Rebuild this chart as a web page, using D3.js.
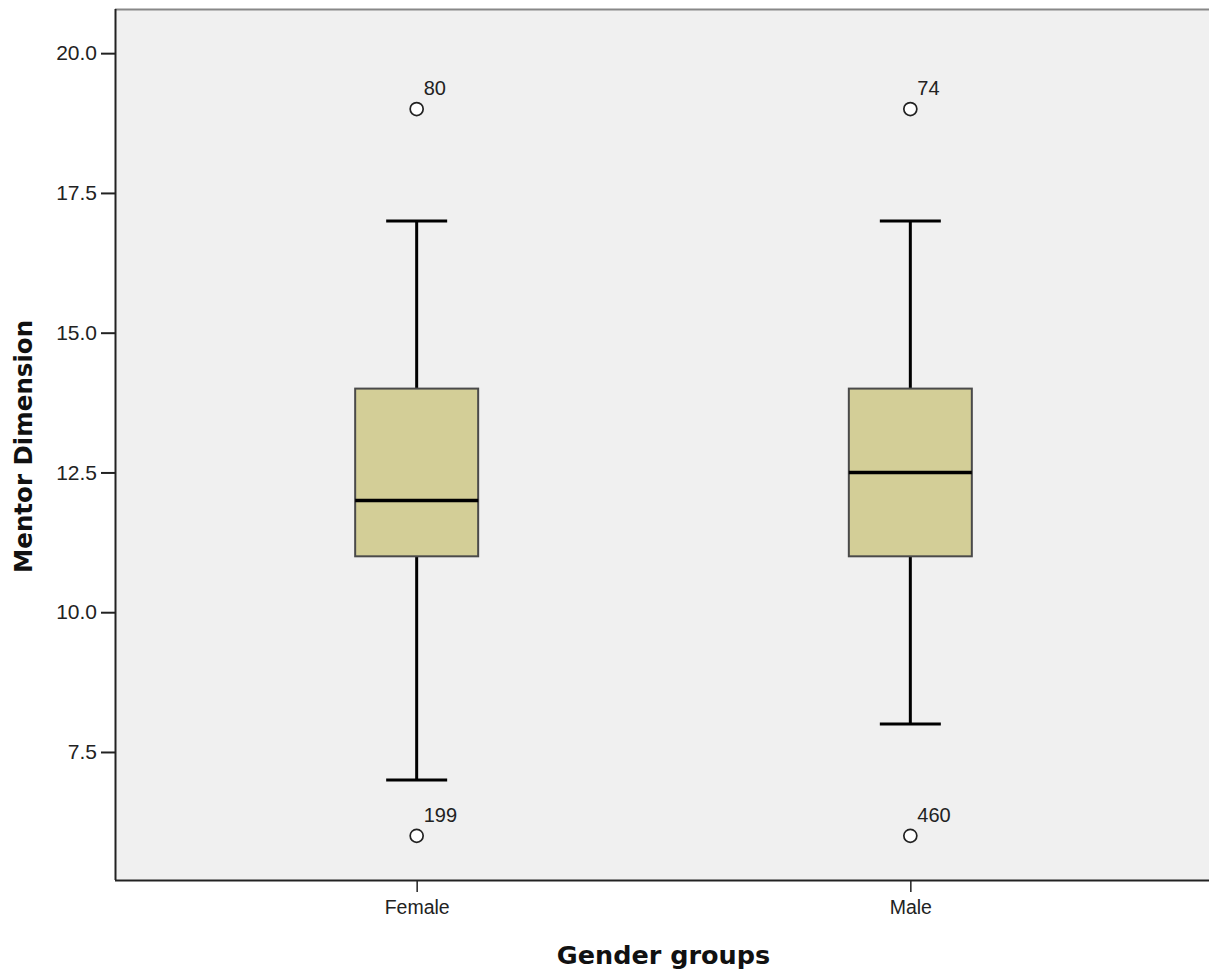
<!DOCTYPE html>
<html><head><meta charset="utf-8">
<script src="https://cdn.jsdelivr.net/npm/d3@7"></script>
<style>body{margin:0;background:#fff}svg{display:block}</style>
</head><body>
<script>
const categories = ["Female", "Male"];
const whiskerLow = [7, 8];
const q1 = [11, 11];
const median = [12, 12.5];
const q3 = [14, 14];
const whiskerHigh = [17, 17];
const outliers = [
  {cat: "Female", value: 19, label: "80"},
  {cat: "Female", value: 6, label: "199"},
  {cat: "Male", value: 19, label: "74"},
  {cat: "Male", value: 6, label: "460"}
];
const yTicks = [7.5, 10.0, 12.5, 15.0, 17.5, 20.0];

const W = 1209, H = 973;
const m = {left: 115, right: 0, top: 9, bottom: 93};
const FONT = "Arial, 'Liberation Sans', sans-serif";
const svg = d3.select("body").append("svg").attr("width", W).attr("height", H)
  .style("font-family", FONT);

const x = d3.scalePoint().domain(categories).range([m.left + 3, W - m.right]).padding(0.605);
const y = d3.scaleLinear().domain([5.21, 20.79]).range([H - m.bottom, m.top]);

svg.append("rect").attr("x", m.left).attr("y", m.top).attr("width", W - m.left - m.right)
  .attr("height", H - m.bottom - m.top).attr("fill", "#f0f0f0");
// top border
svg.append("line").attr("x1", m.left).attr("x2", W).attr("y1", m.top + 0.5).attr("y2", m.top + 0.5)
  .attr("stroke", "#888").attr("stroke-width", 2);

const data = categories.map((c, i) => ({c, lo: whiskerLow[i], q1: q1[i], med: median[i], q3: q3[i], hi: whiskerHigh[i]}));
const boxW = 123, capW = 61;
const g = svg.append("g");
data.forEach(d => {
  const cx = x(d.c);
  g.append("line").attr("x1", cx).attr("x2", cx).attr("y1", y(d.hi)).attr("y2", y(d.q3))
    .attr("stroke", "#000").attr("stroke-width", 3);
  g.append("line").attr("x1", cx).attr("x2", cx).attr("y1", y(d.q1)).attr("y2", y(d.lo))
    .attr("stroke", "#000").attr("stroke-width", 3);
  g.append("line").attr("x1", cx - capW/2).attr("x2", cx + capW/2).attr("y1", y(d.hi)).attr("y2", y(d.hi))
    .attr("stroke", "#000").attr("stroke-width", 3);
  g.append("line").attr("x1", cx - capW/2).attr("x2", cx + capW/2).attr("y1", y(d.lo)).attr("y2", y(d.lo))
    .attr("stroke", "#000").attr("stroke-width", 3);
  g.append("rect").attr("x", cx - boxW/2).attr("y", y(d.q3)).attr("width", boxW).attr("height", y(d.q1) - y(d.q3))
    .attr("fill", "#d3ce97").attr("stroke", "#4a4a4a").attr("stroke-width", 2);
  g.append("line").attr("x1", cx - boxW/2).attr("x2", cx + boxW/2).attr("y1", y(d.med)).attr("y2", y(d.med))
    .attr("stroke", "#000").attr("stroke-width", 3.5);
});
outliers.forEach(o => {
  const cx = x(o.cat), cy = y(o.value);
  g.append("circle").attr("cx", cx).attr("cy", cy).attr("r", 6.5).attr("fill", "#fff")
    .attr("stroke", "#222").attr("stroke-width", 1.7);
  g.append("text").attr("x", cx + 7).attr("y", cy - 14).attr("font-size", 20).attr("fill", "#222").text(o.label);
});

// axes
const yAxis = svg.append("g").attr("transform", `translate(${m.left},0)`)
  .call(d3.axisLeft(y).tickValues(yTicks).tickFormat(d3.format(".1f")).tickSize(14).tickPadding(4));
yAxis.select(".domain").attr("stroke", "#222").attr("stroke-width", 2).attr("d", `M0.5,${m.top}V${H - m.bottom}`);
yAxis.selectAll(".tick line").attr("stroke", "#222").attr("stroke-width", 2);
yAxis.selectAll(".tick text").attr("font-size", 21).attr("fill", "#222").attr("font-family", FONT);

const xAxis = svg.append("g").attr("transform", `translate(0,${H - m.bottom})`)
  .call(d3.axisBottom(x).tickSize(12).tickPadding(8));
xAxis.select(".domain").attr("stroke", "#222").attr("stroke-width", 2).attr("d", `M${m.left},0.5H${W}`);
xAxis.selectAll(".tick line").attr("stroke", "#222").attr("stroke-width", 1.5);
xAxis.selectAll(".tick text").attr("font-size", 19.5).attr("fill", "#222").attr("font-family", FONT);

svg.append("text").attr("transform", `translate(32,${(m.top + H - m.bottom)/2 + 2}) rotate(-90)`)
  .attr("text-anchor", "middle").attr("font-size", 24.5).attr("font-weight", "bold")
  .attr("font-family", "'DejaVu Sans', Verdana, sans-serif").attr("fill", "#111").text("Mentor Dimension");
svg.append("text").attr("x", (x("Female") + x("Male"))/2).attr("y", 964)
  .attr("text-anchor", "middle").attr("font-size", 25.5).attr("font-weight", "bold")
  .attr("font-family", "'DejaVu Sans', Verdana, sans-serif").attr("fill", "#111").text("Gender groups");
</script>
</body></html>
